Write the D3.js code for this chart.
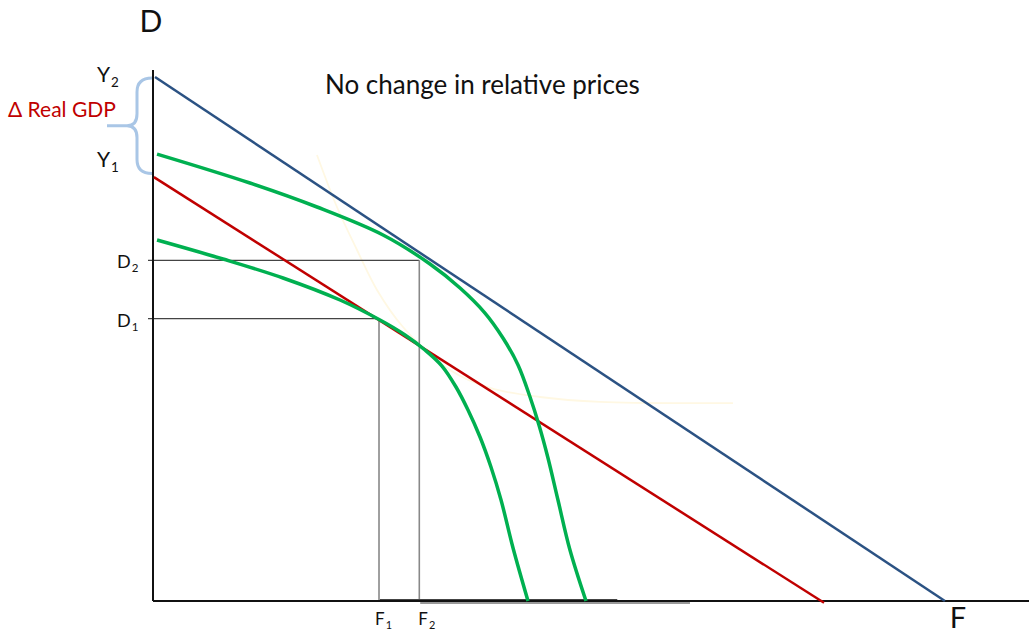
<!DOCTYPE html>
<html><head><meta charset="utf-8">
<script src="https://cdn.jsdelivr.net/npm/d3@7"></script>
<style>body{margin:0;background:#fff}svg{display:block}text{font-family:Lato,"Open Sans",sans-serif}</style>
</head><body><svg id="c" width="1029" height="634"></svg>
<script>
// ---- data (F = foreign goods on x, D = domestic goods on y) ----
const budgetNew = [[0.23, 59.2], [90.4, 0]];          // blue, after growth
const budgetOld = [[0.1, 47.9], [76.6, -0.2]];        // red, before growth
const ppfNewF = [0.46, 11.07, 18.72, 26.26, 31.62, 35.05, 37.90, 39.95, 41.67, 43.04, 44.06, 45.09, 46.23, 47.60, 49.43];
const ppfNewD = [50.5, 47.23, 44.52, 41.36, 38.08, 35.37, 32.54, 29.72, 26.67, 23.05, 19.89, 16.16, 11.41, 5.76, 0];
const ppfOldF = [0.46, 7.99, 14.84, 21.35, 25.91, 28.77, 31.05, 32.99, 34.59, 35.96, 37.33, 38.58, 39.73, 41.10, 42.81];
const ppfOldD = [40.79, 38.64, 36.50, 34.01, 31.75, 30.06, 28.36, 26.55, 24.18, 21.58, 18.53, 15.14, 11.41, 5.99, 0];
const faintF = [18.72, 21.00, 23.29, 25.57, 28.54, 33.90, 38.47, 44.18, 51.03, 66.21];
const faintD = [50.40, 44.52, 39.66, 35.14, 30.96, 26.10, 24.07, 23.05, 22.49, 22.37];
const tangencies = [{label:"1", F:25.8, D:31.9}, {label:"2", F:30.4, D:38.5}];
const Y2 = 59.2, Y1 = 48.3;
const baseSegs = [{from:25.9, to:53.0, dark:true}, {from:30.5, to:61.3, dark:false}];
const title = "No change in relative prices";

const zip = (a,b)=>a.map((v,i)=>[v,b[i]]);
const ppfNew = zip(ppfNewF, ppfNewD), ppfOld = zip(ppfOldF, ppfOldD), faintCurve = zip(faintF, faintD);

// ---- scales ----
const svg = d3.select("#c");
const x = d3.scaleLinear().domain([0,100]).range([153,1029]);
const y = d3.scaleLinear().domain([0,60]).range([601,70]);
const line = d3.line().x(d=>x(d[0])).y(d=>y(d[1]));
const smooth = d3.line().x(d=>x(d[0])).y(d=>y(d[1])).curve(d3.curveCatmullRom.alpha(0.5));

// faint curve
svg.append("path").attr("d", smooth(faintCurve)).attr("fill","none").attr("stroke","#fff8e3").attr("stroke-width",1.8);

// guide lines
tangencies.forEach(t=>{
  svg.append("line").attr("x1",x(0)-5).attr("x2",x(t.F)).attr("y1",y(t.D)).attr("y2",y(t.D)).attr("stroke","#444").attr("stroke-width",1.2);
  svg.append("line").attr("x1",x(t.F)).attr("x2",x(t.F)).attr("y1",y(t.D)).attr("y2",y(0)).attr("stroke","#888").attr("stroke-width",1.6);
});
baseSegs.forEach(s=>{
  svg.append("line").attr("x1",x(s.from)).attr("x2",x(s.to)).attr("y1",y(0)+(s.dark?-1:2)).attr("y2",y(0)+(s.dark?-1:2))
    .attr("stroke",s.dark?"#444":"#999").attr("stroke-width",2);
});

// axes
svg.append("line").attr("x1",x(0)).attr("x2",x(0)).attr("y1",y(60)).attr("y2",y(0)).attr("stroke","#111").attr("stroke-width",2);
svg.append("line").attr("x1",x(0)).attr("x2",x(100)).attr("y1",y(0)).attr("y2",y(0)).attr("stroke","#111").attr("stroke-width",2);

// budget lines
svg.append("path").attr("d",line(budgetNew)).attr("fill","none").attr("stroke","#2b5283").attr("stroke-width",2.5);
svg.append("path").attr("d",line(budgetOld)).attr("fill","none").attr("stroke","#c00000").attr("stroke-width",2.5);
// PPFs
[ppfNew, ppfOld].forEach(p=>svg.append("path").attr("d",smooth(p)).attr("fill","none").attr("stroke","#00b050").attr("stroke-width",3.5));

// brace
const yt = y(Y2)+1, yb = y(Y1), ym = (yt+yb)/2, bx = 137;
svg.append("path").attr("d",`M${x(0)-1},${yt} Q${bx},${yt} ${bx},${yt+14} L${bx},${ym-12} Q${bx},${ym} ${bx-10},${ym} L${bx-30},${ym} M${bx-10},${ym} Q${bx},${ym} ${bx},${ym+12} L${bx},${yb-14} Q${bx},${yb} ${x(0)-1},${yb}`)
  .attr("fill","none").attr("stroke","#a9c6e6").attr("stroke-width",3);

// texts
function sublabel(tx, ty, main, sub, size){
  const t = svg.append("text").attr("x",tx).attr("y",ty).attr("font-size",size).attr("fill","#111");
  t.append("tspan").text(main);
  t.append("tspan").attr("font-size",size*0.64).attr("dy",size*0.22).attr("dx",1).text(sub);
}
svg.append("text").attr("x",151).attr("y",32).attr("font-size",30).attr("text-anchor","middle").attr("fill","#111").text("D");
svg.append("text").attr("x",958).attr("y",628).attr("font-size",29).attr("text-anchor","middle").attr("fill","#111").text("F");
sublabel(97, 82, "Y", "2", 21);
sublabel(97, 167, "Y", "1", 21);
svg.append("text").attr("x",8).attr("y",117).attr("font-size",21).attr("fill","#c00000").text("Δ Real GDP");
tangencies.forEach((t,i)=>{
  sublabel(x(0)-36, y(t.D)+8, "D", t.label, 18);
  sublabel(x(t.F)-(i===0?4:1), 625, "F", t.label, 17);
});
svg.append("text").attr("x",325).attr("y",94).attr("font-size",26).attr("fill","#111").text(title);
</script></body></html>
